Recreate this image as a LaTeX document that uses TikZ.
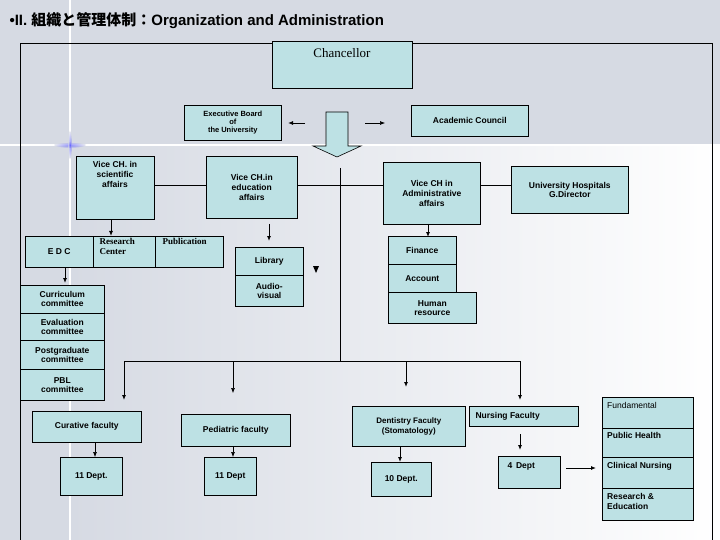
\documentclass[tikz,border=0pt]{standalone}
\usepackage{fontspec}
\setmainfont{Liberation Sans}
\newfontfamily\cjk{Noto Sans CJK JP}
\newfontfamily\serifx{Liberation Serif}
\begin{document}
\begin{tikzpicture}[x=1pt,y=-1pt,
  bx/.style={draw=black,fill=boxc,line width=0.6pt,inner sep=0pt,align=center,font=\fontsize{8.5}{9}\selectfont\bfseries},
  ln/.style={line width=0.7pt},
  ar/.style={line width=0.9pt,-{Latex[length=5pt,width=4pt]}}]
\usetikzlibrary{arrows.meta}
\definecolor{boxc}{HTML}{BDE1E4}
\definecolor{bgc}{HTML}{D6DAE3}
\useasboundingbox (0,0) rectangle (720,540);
\fill[bgc] (0,0) rectangle (720,540);
\shade[left color=bgc,right color=white] (70,145) rectangle (720,540);
\draw[white,line width=1.5pt] (70,0) -- (70,540);
\draw[white,line width=1.5pt] (0,145) -- (720,145);
\shade[inner color=blue!70,outer color=bgc,opacity=0.6] (70,145) ellipse (16pt and 3pt);
\shade[inner color=blue!70,outer color=bgc,opacity=0.6] (70,145) ellipse (2pt and 14pt);
\node[anchor=west,font=\fontsize{15}{15}\selectfont\bfseries] (title) at (6,21) {•II. {\cjk 組織と管理体制：}Organization and Administration};
\draw[ln] (20,540) -- (20,43) -- (712,43) -- (712,540);
% chancellor
\node[bx,minimum width=140pt,minimum height=47pt,anchor=north west] (ch) at (272,41) {};
\node[font=\serifx\fontsize{13}{13}\selectfont] (cht) at (342,53) {Chancellor};
\node[bx,anchor=north west,minimum width=97pt,minimum height=35pt,font=\fontsize{7.5}{8}\selectfont\bfseries] (eb) at (184,105) {Executive Board\\of\\the University};
\node[bx,anchor=north west,minimum width=117pt,minimum height=31pt] (ac) at (411,105) {Academic Council};
\coordinate (e1) at (305,123); \coordinate (e2) at (288,123);
\draw[ar] (e1) -- (e2);
\coordinate (a1) at (365,123); \coordinate (a2) at (385,123);
\draw[ar,line width=0.6pt] (a1) -- (a2);
\draw[fill=boxc,line width=0.6pt] (326,112) -- (348,112) -- (348,146) -- (361,146) -- (337,157) -- (313,146) -- (326,146) -- cycle;
% vice chancellors
\node[bx,anchor=north west,minimum width=78pt,minimum height=63pt] (sci) at (76,156) {};
\node[font=\fontsize{8.5}{10}\selectfont\bfseries,align=center,anchor=north] at (115,158) {Vice CH. in\\scientific\\affairs};
\node[bx,anchor=north west,minimum width=91pt,minimum height=62pt,font=\fontsize{8.5}{10}\selectfont\bfseries] (edu) at (206,156) {Vice CH.in\\education\\affairs};
\node[bx,anchor=north west,minimum width=97pt,minimum height=62pt,font=\fontsize{8.5}{10}\selectfont\bfseries] (adm) at (383,162) {Vice CH in\\Administrative\\affairs};
\node[bx,anchor=north west,minimum width=117pt,minimum height=47pt] (hos) at (511,166) {University Hospitals\\G.Director};
\draw[ln] (sci.east |- 0,185) -- (edu.west |- 0,185);
\draw[ln] (edu.east |- 0,185) -- (adm.west |- 0,185);
\draw[ln] (adm.east |- 0,185) -- (hos.west |- 0,185);
\coordinate (v1) at (340,168); \coordinate (v2) at (340,361);
\draw[ln] (v1) -- (v2);
% scientific
\node[bx,anchor=north west,minimum width=68pt,minimum height=31pt] (edc) at (25,236) {E D C};
\node[bx,anchor=north west,minimum width=62pt,minimum height=31pt] (rc) at (93,236) {};
\node[anchor=north west,font=\serifx\fontsize{9}{9.5}\selectfont\bfseries,align=left] at (96,235) {Research\\Center};
\node[bx,anchor=north west,minimum width=68pt,minimum height=31pt] (pub) at (155,236) {};
\node[anchor=north west,font=\serifx\fontsize{9}{9.5}\selectfont\bfseries] at (159,235) {Publication};
\draw[ar] (sci.south -| 111,0) -- (111,236);
\draw[ar] (65,268) -- (65,283);
\node[bx,anchor=north west,minimum width=84pt,minimum height=28pt] (cur) at (20,285) {Curriculum\\committee};
\node[bx,anchor=north west,minimum width=84pt,minimum height=27pt] (eva) at (20,313) {Evaluation\\committee};
\node[bx,anchor=north west,minimum width=84pt,minimum height=29pt] (pg) at (20,340) {Postgraduate\\committee};
\node[bx,anchor=north west,minimum width=84pt,minimum height=31pt] (pbl) at (20,369) {PBL\\committee};
% education
\draw[ar] (269,224) -- (269,241);
\node[bx,anchor=north west,minimum width=68pt,minimum height=28pt] (lib) at (235,247) {Library};
\node[bx,anchor=north west,minimum width=68pt,minimum height=31pt] (av) at (235,275) {Audio-\\visual};
\fill (313,266) -- (319,266) -- (316,273) -- cycle;
% admin
\draw[ar] (428,224) -- (428,237);
\node[bx,anchor=north west,minimum width=68pt,minimum height=28pt] (fin) at (388,236) {Finance};
\node[bx,anchor=north west,minimum width=68pt,minimum height=28pt] (acc) at (388,264) {Account};
\node[bx,anchor=north west,minimum width=88pt,minimum height=31pt] (hr) at (388,292) {Human\\resource};
% faculties
\draw[ln] (124,361) -- (520,361);
\node[bx,anchor=north west,minimum width=109pt,minimum height=31pt] (cf) at (32,411) {Curative faculty};
\node[bx,anchor=north west,minimum width=109pt,minimum height=32pt] (pf) at (181,414) {Pediatric faculty};
\node[bx,anchor=north west,minimum width=113pt,minimum height=40pt,font=\fontsize{8}{9.5}\selectfont\bfseries] (df) at (352,406) {Dentistry Faculty\\(Stomatology)};
\node[bx,anchor=north west,minimum width=109pt,minimum height=20pt] (nf) at (469,406) {};
\node[anchor=west,font=\fontsize{8.5}{9}\selectfont\bfseries] at (472,416) {Nursing Faculty};
\draw[ar] (124,361) -- (124,400);
\draw[ar,line width=0.6pt] (233,361) -- (233,393);
\draw[ar] (406,361) -- (406,387);
\draw[ar] (520,361) -- (520,400);
\node[bx,anchor=north west,minimum width=62pt,minimum height=38pt] (d1) at (60,457) {11 Dept.};
\node[bx,anchor=north west,minimum width=52pt,minimum height=38pt] (d2) at (204,457) {11 Dept};
\node[bx,anchor=north west,minimum width=60pt,minimum height=34pt] (d3) at (371,462) {10 Dept.};
\node[bx,anchor=north west,minimum width=62pt,minimum height=32pt] (d4) at (498,456) {};
\node[anchor=north west,font=\fontsize{8.5}{9}\selectfont\bfseries] at (504,459) {4\, Dept};
\draw[ar,line width=0.6pt] (95,442) -- (d1.north -| 95,0);
\draw[ar,line width=0.6pt] (233,446) -- (d2.north -| 233,0);
\draw[ar] (400,446) -- (d3.north -| 400,0);
\draw[ar] (520,434) -- (520,450);
\draw[ar] (566,468) -- (596,468);
\node[bx,anchor=north west,minimum width=91pt,minimum height=31pt] (fu) at (602,397) {};
\node[bx,anchor=north west,minimum width=91pt,minimum height=29pt] (ph) at (602,428) {};
\node[bx,anchor=north west,minimum width=91pt,minimum height=31pt] (cn) at (602,457) {};
\node[bx,anchor=north west,minimum width=91pt,minimum height=32pt] (re) at (602,488) {};
\node[anchor=north west,inner sep=0pt,font=\fontsize{8.5}{10}\selectfont] at (607,402) {Fundamental};
\node[anchor=north west,inner sep=0pt,font=\fontsize{8.5}{10}\selectfont\bfseries] at (607,432) {Public Health};
\node[anchor=north west,inner sep=0pt,font=\fontsize{8.5}{10}\selectfont\bfseries] at (607,462) {Clinical Nursing};
\node[anchor=north west,inner sep=0pt,font=\fontsize{8.5}{10}\selectfont\bfseries,align=left] at (607,493) {Research \&\\Education};
\end{tikzpicture}
\end{document}
